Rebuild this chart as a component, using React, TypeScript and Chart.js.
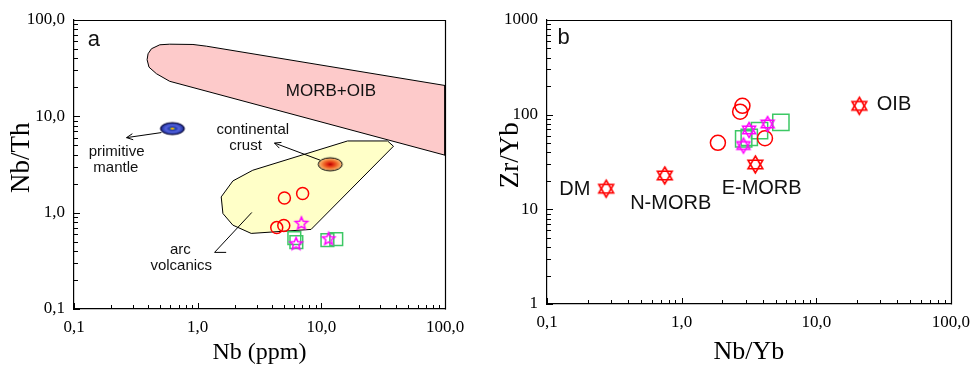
import React, { useEffect, useRef } from "react";
import { Chart, registerables } from "chart.js";
Chart.register(...registerables);

// ---------------- Panel a : Nb (ppm) vs Nb/Th ----------------
const A_CIRCLE_X = [5.03, 7.06, 4.36, 4.97];
const A_CIRCLE_Y = [1.42, 1.58, 0.7, 0.736];
const A_SQUARE_X = [6.05, 6.28, 11.2, 13.2];
const A_SQUARE_Y = [0.545, 0.494, 0.519, 0.53];
const A_STAR_X = [6.9, 6.25, 11.45];
const A_STAR_Y = [0.784, 0.48, 0.541];

const MORB_OIB_X = [0.397, 0.423, 0.494, 0.594, 0.916, 1.175, 100, 100, 0.594, 0.464, 0.404, 0.39, 0.397];
const MORB_OIB_Y = [44.6, 50.3, 55.3, 56.1, 55.7, 53.5, 20.9, 3.95, 23.1, 27.7, 32.4, 38.7, 44.6];
const ARC_X = [1.55, 1.926, 2.79, 16.3, 34.3, 38.3, 8.26, 2.71, 1.926, 1.6, 1.55];
const ARC_Y = [1.458, 2.135, 2.757, 5.55, 5.55, 4.89, 0.67, 0.609, 0.742, 0.98, 1.458];

const PM_X = [0.625];
const PM_Y = [7.46];
const CC_X = [11.8];
const CC_Y = [3.18];

const PM_ARROW_X = [0.509, 0.266];
const PM_ARROW_Y = [6.78, 6.01];
const CC_ARROW_X = [9.82, 4.18];
const CC_ARROW_Y = [3.5, 5.28];
const ARC_POINTER_X = [2.74, 1.37, 1.7];
const ARC_POINTER_Y = [1.005, 0.387, 0.387];

const A_LABEL_TEXT = ["a", "MORB+OIB", "continental", "crust", "primitive", "mantle", "arc", "volcanics"];
const A_LABEL_X = [0.145, 11.96, 2.79, 2.44, 0.221, 0.218, 0.725, 0.737];
const A_LABEL_Y = [61.4, 18.3, 7.28, 4.89, 4.27, 2.91, 0.416, 0.279];

const A_X_MAJOR = [0.1, 1, 10, 100];
const A_X_LABELS = ["0,1", "1,0", "10,0", "100,0"];
const A_Y_MAJOR = [0.1, 1, 10, 100];
const A_Y_LABELS = ["0,1", "1,0", "10,0", "100,0"];

// ---------------- Panel b : Nb/Yb vs Zr/Yb ----------------
const B_CIRCLE_X = [2.83, 2.72, 1.86, 4.16];
const B_CIRCLE_Y = [124, 107.6, 50.4, 56.3];
const B_SQUARE_X = [5.46, 3.79, 3.18, 2.89];
const B_SQUARE_Y = [83, 67.9, 57.7, 55.5];
const B_STAR_X = [4.35, 3.17, 2.88];
const B_STAR_Y = [79.8, 69, 47.2];
const REF_NAMES = ["DM", "N-MORB", "E-MORB", "OIB"];
const REF_X = [0.275, 0.75, 3.53, 20.9];
const REF_Y = [16.5, 22.8, 29.8, 124];

const B_LABEL_TEXT = ["b", "DM", "N-MORB", "E-MORB", "OIB"];
const B_LABEL_X = [0.133, 0.161, 0.83, 3.93, 37.8];
const B_LABEL_Y = [651, 16.1, 11.5, 16.5, 129.6];

const B_X_MAJOR = [0.1, 1, 10, 100];
const B_X_LABELS = ["0,1", "1,0", "10,0", "100,0"];
const B_Y_MAJOR = [1, 10, 100, 1000];
const B_Y_LABELS = ["1", "10", "100", "1000"];

// ---------------- styles ----------------
const SERIF = "'Liberation Serif', 'Times New Roman', serif";
const SANS = "'Liberation Sans', Arial, sans-serif";
const A_LABEL_SIZE = [22, 17, 15, 15, 15, 15, 15, 15];
const B_LABEL_SIZE = [22, 20, 20, 20, 20];

const pts = (xs: number[], ys: number[]) => xs.map((x, i) => ({ x, y: ys[i] }));

function logTicks(min: number, max: number) {
  const out: number[] = [];
  for (let e = Math.round(Math.log10(min)); e < Math.round(Math.log10(max)); e++) {
    for (let m = 1; m <= 9; m++) out.push(parseFloat((m * Math.pow(10, e)).toPrecision(6)));
  }
  out.push(max);
  return out;
}

function makeStar5(R: number, color: string, lw: number) {
  const s = Math.ceil(2 * R + 2 * lw + 2);
  const c = document.createElement("canvas");
  c.width = s; c.height = s;
  const g = c.getContext("2d")!;
  const r = R * 0.45;
  g.beginPath();
  for (let k = 0; k < 10; k++) {
    const a = -Math.PI / 2 + (k * Math.PI) / 5;
    const rr = k % 2 === 0 ? R : r;
    const px = s / 2 + rr * Math.cos(a);
    const py = s / 2 + rr * Math.sin(a) + R * 0.1;
    if (k === 0) g.moveTo(px, py); else g.lineTo(px, py);
  }
  g.closePath();
  g.strokeStyle = color; g.lineWidth = lw; g.lineJoin = "miter";
  g.stroke();
  return c;
}

function makeHexagram(R: number, color: string, lw: number) {
  const s = Math.ceil(2 * R + 2 * lw + 2);
  const c = document.createElement("canvas");
  c.width = s; c.height = s;
  const g = c.getContext("2d")!;
  g.strokeStyle = color; g.lineWidth = lw; g.lineJoin = "miter";
  for (const start of [-90, 90]) {
    g.beginPath();
    for (let k = 0; k < 3; k++) {
      const a = ((start + k * 120) * Math.PI) / 180;
      const px = s / 2 + R * Math.cos(a);
      const py = s / 2 + R * Math.sin(a);
      if (k === 0) g.moveTo(px, py); else g.lineTo(px, py);
    }
    g.closePath();
    g.stroke();
  }
  return c;
}

function makeEllipse(w: number, h: number, stops: [number, string][], edge: string) {
  const c = document.createElement("canvas");
  c.width = Math.ceil(w + 4); c.height = Math.ceil(h + 4);
  const g = c.getContext("2d")!;
  g.save();
  g.translate(c.width / 2, c.height / 2);
  g.scale(1, h / w);
  const grad = g.createRadialGradient(0, 0, 0, 0, 0, w / 2);
  stops.forEach(([o, col]) => grad.addColorStop(o, col));
  g.beginPath();
  g.arc(0, 0, w / 2, 0, Math.PI * 2);
  g.fillStyle = grad;
  g.fill();
  g.restore();
  g.beginPath();
  g.ellipse(c.width / 2, c.height / 2, w / 2, h / 2, 0, 0, Math.PI * 2);
  g.strokeStyle = edge; g.lineWidth = 1;
  g.stroke();
  return c;
}

function axis(
  pos: "bottom" | "left",
  min: number,
  max: number,
  majors: number[],
  labels: string[],
  title: string,
  size: number,
  titleSize: number
) {
  const isX = pos === "bottom";
  return {
    type: "logarithmic",
    position: pos,
    min,
    max,
    afterBuildTicks: (s: any) => {
      s.ticks = logTicks(min, max).map((v) => ({ value: v, major: majors.includes(v) }));
    },
    afterFit: (s: any) => {
      if (isX) s.height = size; else s.width = size;
    },
    ticks: {
      autoSkip: false,
      maxRotation: 0,
      minRotation: 0,
      padding: isX ? 8 : 9,
      color: "#000",
      font: { family: SERIF, size: 17 },
      callback: (v: any) => {
        const i = majors.findIndex((m) => Math.abs(m - v) / m < 1e-6);
        return i >= 0 ? labels[i] : "";
      },
    },
    grid: { drawOnChartArea: false, drawTicks: false, color: "#000" },
    border: { display: true, color: "#000", width: 1.2 },
    title: {
      display: true,
      text: title,
      color: "#000",
      font: { family: SERIF, size: titleSize, lineHeight: 1 },
      padding: isX ? { top: 0, bottom: 0 } : { top: 8, bottom: 0 },
    },
  };
}

function annotPlugin(texts: string[], xs: number[], ys: number[], sizes: number[], arrows: { x: number[]; y: number[] }[], majX: number[], majY: number[]) {
  return {
    id: "annot",
    afterDatasetsDraw(chart: any) {
      const { ctx, chartArea: ca } = chart;
      const sx = chart.scales.x, sy = chart.scales.y;
      ctx.save();
      // frame top & right
      ctx.strokeStyle = "#000"; ctx.lineWidth = 1.2;
      ctx.beginPath();
      ctx.moveTo(Math.round(ca.left), Math.round(ca.top) + 0.5);
      ctx.lineTo(Math.round(ca.right) + 0.5, Math.round(ca.top) + 0.5);
      ctx.lineTo(Math.round(ca.right) + 0.5, Math.round(ca.bottom) + 0.5);
      ctx.stroke();
      // inward tick marks from the scales' ticks
      ctx.lineWidth = 1;
      ctx.beginPath();
      sx.ticks.forEach((t: any) => {
        const p = Math.round(sx.getPixelForValue(t.value)) + 0.5;
        const len = majX.includes(t.value) ? 6 : 4;
        ctx.moveTo(p, ca.bottom);
        ctx.lineTo(p, ca.bottom - len);
      });
      sy.ticks.forEach((t: any) => {
        const p = Math.round(sy.getPixelForValue(t.value)) + 0.5;
        const len = majY.includes(t.value) ? 6 : 4;
        ctx.moveTo(ca.left, p);
        ctx.lineTo(ca.left + len, p);
      });
      ctx.stroke();
      // arrow heads
      arrows.forEach((a) => {
        const n = a.x.length;
        const x1 = sx.getPixelForValue(a.x[n - 2]), y1 = sy.getPixelForValue(a.y[n - 2]);
        const x2 = sx.getPixelForValue(a.x[n - 1]), y2 = sy.getPixelForValue(a.y[n - 1]);
        const ang = Math.atan2(y2 - y1, x2 - x1);
        const L = 7, sp = 0.45;
        ctx.beginPath();
        ctx.moveTo(x2 - L * Math.cos(ang - sp), y2 - L * Math.sin(ang - sp));
        ctx.lineTo(x2, y2);
        ctx.lineTo(x2 - L * Math.cos(ang + sp), y2 - L * Math.sin(ang + sp));
        ctx.stroke();
      });
      ctx.fillStyle = "#111";
      ctx.textAlign = "center";
      ctx.textBaseline = "middle";
      texts.forEach((t, i) => {
        ctx.font = `${sizes[i]}px ${SANS}`;
        ctx.fillText(t, sx.getPixelForValue(xs[i]), sy.getPixelForValue(ys[i]));
      });
      ctx.restore();
    },
  };
}

const baseOptions = (scales: any, pad: any) => ({
  responsive: false,
  maintainAspectRatio: false,
  animation: false,
  devicePixelRatio: 1,
  layout: { padding: pad },
  plugins: { legend: { display: false }, tooltip: { enabled: false } },
  scales,
});

function lineSet(xs: number[], ys: number[], extra: any) {
  return {
    type: "scatter",
    data: pts(xs, ys),
    showLine: true,
    pointRadius: 0,
    borderColor: "#000",
    borderWidth: 1,
    tension: 0,
    fill: false,
    ...extra,
  };
}

export default function App() {
  const r1 = useRef<HTMLCanvasElement>(null);
  const r2 = useRef<HTMLCanvasElement>(null);

  useEffect(() => {
    const star5 = makeStar5(6.5, "#ff00ff", 1.5);
    const hexRed = makeHexagram(8.5, "#ff0000", 1.6);
    const hexMag = makeHexagram(7.5, "#ff00ff", 1.5);
    const pmEll = makeEllipse(24, 12, [
      [0, "#ffcc00"], [0.12, "#ffaa00"], [0.18, "#2f9a8a"], [0.26, "#2233aa"], [0.55, "#5565e0"], [0.82, "#3040b0"], [1, "#101050"],
    ], "#000033");
    const ccEll = makeEllipse(24, 13, [
      [0, "#b00000"], [0.25, "#e02a10"], [0.55, "#f06a2a"], [0.85, "#f8a860"], [1, "#fcd29a"],
    ], "#000");

    const c1 = new Chart(r1.current!, {
      type: "scatter",
      data: {
        datasets: [
          { data: pts(A_CIRCLE_X, A_CIRCLE_Y), pointStyle: "circle", pointRadius: 6, borderColor: "#ff0000", backgroundColor: "rgba(0,0,0,0)", borderWidth: 1.5, order: 0 },
          { data: pts(A_STAR_X, A_STAR_Y), pointStyle: star5, pointRadius: 6, order: 0 },
          { data: pts(A_SQUARE_X, A_SQUARE_Y), pointStyle: "rect", pointRadius: 9, borderColor: "#3cc864", backgroundColor: "rgba(0,0,0,0)", borderWidth: 1.5, order: 1 },
          { data: pts(PM_X, PM_Y), pointStyle: pmEll, pointRadius: 6, order: 2 },
          { data: pts(CC_X, CC_Y), pointStyle: ccEll, pointRadius: 6, order: 2 },
          lineSet(PM_ARROW_X, PM_ARROW_Y, { order: 3 }),
          lineSet(CC_ARROW_X, CC_ARROW_Y, { order: 3 }),
          lineSet(ARC_POINTER_X, ARC_POINTER_Y, { order: 3 }),
          lineSet(ARC_X, ARC_Y, { fill: "shape", backgroundColor: "#ffffc8", order: 4 }),
          lineSet(MORB_OIB_X, MORB_OIB_Y, { fill: "shape", backgroundColor: "#fdcaca", order: 5 }),
        ],
      } as any,
      options: baseOptions(
        {
          x: axis("bottom", 0.1, 100, A_X_MAJOR, A_X_LABELS, "Nb (ppm)", 56, 24),
          y: axis("left", 0.1, 100, A_Y_MAJOR, A_Y_LABELS, "  Nb/Th", 74, 27),
        },
        { top: 20, right: 44, left: 0, bottom: 0 }
      ) as any,
      plugins: [
        annotPlugin(A_LABEL_TEXT, A_LABEL_X, A_LABEL_Y, A_LABEL_SIZE, [
          { x: PM_ARROW_X, y: PM_ARROW_Y },
          { x: CC_ARROW_X, y: CC_ARROW_Y },
        ], A_X_MAJOR, A_Y_MAJOR),
      ],
    });

    const c2 = new Chart(r2.current!, {
      type: "scatter",
      data: {
        datasets: [
          { data: pts(B_STAR_X, B_STAR_Y), pointStyle: hexMag, pointRadius: 6, order: 0 },
          { data: pts(B_CIRCLE_X, B_CIRCLE_Y), pointStyle: "circle", pointRadius: 7.5, borderColor: "#ff0000", backgroundColor: "rgba(0,0,0,0)", borderWidth: 1.5, order: 1 },
          { data: pts(B_SQUARE_X, B_SQUARE_Y), pointStyle: "rect", pointRadius: 11.5, borderColor: "#3cc864", backgroundColor: "rgba(0,0,0,0)", borderWidth: 1.5, order: 2 },
          { data: pts(REF_X, REF_Y), pointStyle: hexRed, pointRadius: 6, order: 0 },
        ],
      } as any,
      options: baseOptions(
        {
          x: axis("bottom", 0.1, 100, B_X_MAJOR, B_X_LABELS, "Nb/Yb", 61, 26),
          y: axis("left", 1, 1000, B_Y_MAJOR, B_Y_LABELS, "  Zr/Yb", 58, 27),
        },
        { top: 20, right: 24, left: 0, bottom: 0 }
      ) as any,
      plugins: [annotPlugin(B_LABEL_TEXT, B_LABEL_X, B_LABEL_Y, B_LABEL_SIZE, [], B_X_MAJOR, B_Y_MAJOR)],
    });

    return () => {
      c1.destroy();
      c2.destroy();
    };
  }, []);

  return (
    <div style={{ position: "absolute", left: 0, top: 0, width: 978, height: 365, background: "#fff" }}>
      <canvas ref={r1} width={489} height={365} style={{ position: "absolute", left: 0, top: 0, width: 489, height: 365 }} />
      <canvas ref={r2} width={489} height={365} style={{ position: "absolute", left: 489, top: 0, width: 489, height: 365 }} />
    </div>
  );
}
